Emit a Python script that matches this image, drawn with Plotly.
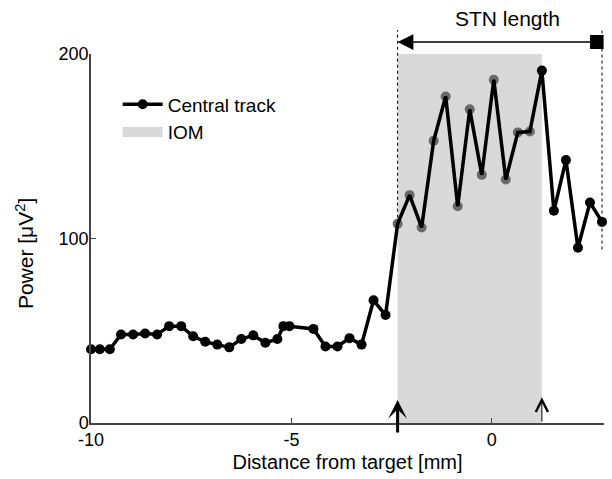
import plotly.graph_objects as go

# Power along the central electrode track
distance_mm = [-10.0, -9.78, -9.53, -9.25, -8.95, -8.65, -8.35, -8.05, -7.75, -7.45,
               -7.15, -6.85, -6.55, -6.25, -5.95, -5.65, -5.35, -5.2, -5.05, -4.45,
               -4.15, -3.85, -3.55, -3.25, -2.95, -2.65, -2.35, -2.05, -1.75, -1.45,
               -1.15, -0.85, -0.55, -0.25, 0.05, 0.35, 0.65, 0.95, 1.25, 1.55,
               1.85, 2.15, 2.45, 2.75]
power_uv2 = [40, 40, 40, 48, 48, 48.5, 48, 52.5, 52.5, 47,
             44, 42.5, 41, 45.5, 47.5, 43.5, 45.5, 52.5, 52.5, 51,
             41.5, 41.5, 46, 42.5, 66.5, 58.5, 108, 123.5, 106, 153,
             177, 117.5, 170, 134.5, 186, 132, 157.5, 158, 191, 115,
             142.5, 95, 119.5, 109]

# Intra-operative microrecording (IOM) segment and STN borders
iom_start = -2.35
iom_end = 1.25
stn_entry = -2.35
stn_exit = 2.75
stn_marker_x = 2.62
stn_marker_halfwidth = 0.17
stn_arrow_level = 206.5
stn_label_level = 219.5
stn_label_x = 0.4
entry_line_bottom = 108
exit_line_bottom = 94
border_line_top = 213
entry_arrow_tip = 12.5
exit_arrow_tip = 14

x_range = [-10, 2.8]
x_ticks = [-10, -5, 0, 2.8]
x_ticklabels = ["-10", "-5", "0", "2.8"]
y_max = 200
y_ticks = [0, 100, 200]
y_title_level = 92

FONT = "Liberation Sans, Arial, sans-serif"
SHADE = "#d9d9d9"
AXIS = "#444"
LINE_W = 3.5
MARKER_SIZE = 10


def paper_y(v):
    return v / y_max


inside = [iom_start <= x < iom_end for x in distance_mm]

fig = go.Figure()

fig.add_trace(go.Scatter(
    x=[iom_start, iom_end, iom_end, iom_start, iom_start],
    y=[0, 0, y_max, y_max, 0],
    fill="toself", fillcolor=SHADE, mode="lines",
    line=dict(width=0, color=SHADE), showlegend=False, hoverinfo="skip",
))

# grey markers for samples inside the IOM segment, sitting under the line
fig.add_trace(go.Scatter(
    x=[x for x, k in zip(distance_mm, inside) if k],
    y=[y for y, k in zip(power_uv2, inside) if k],
    mode="markers", marker=dict(size=MARKER_SIZE, color="#6a6a6a"),
    showlegend=False, cliponaxis=False,
))

fig.add_trace(go.Scatter(
    x=distance_mm, y=power_uv2, mode="lines+markers",
    line=dict(color="black", width=LINE_W),
    marker=dict(size=MARKER_SIZE, color="black",
                opacity=[0 if k else 1 for k in inside]),
    showlegend=False, cliponaxis=False,
))

# legend entries
fig.add_trace(go.Scatter(
    x=[None], y=[None], mode="lines+markers", name="Central track",
    line=dict(color="black", width=LINE_W),
    marker=dict(size=MARKER_SIZE, color="black"), legendrank=1,
))
fig.add_trace(go.Scatter(
    x=[None], y=[None], mode="lines", name="IOM",
    line=dict(width=20, color=SHADE), legendrank=2,
))

annotations = [
    dict(x=stn_entry, y=paper_y(stn_arrow_level), xref="x", yref="paper",
         ax=stn_marker_x, axref="x", ay=0, ayref="pixel", text="",
         showarrow=True, arrowhead=2, arrowsize=2.1, arrowwidth=1.5,
         arrowcolor="black", standoff=0, startstandoff=0),
    dict(x=stn_label_x, y=paper_y(stn_label_level), xref="x", yref="paper",
         yanchor="middle", text="STN length", showarrow=False,
         font=dict(family=FONT, size=21, color="black")),
    dict(x=iom_start, y=entry_arrow_tip, xref="x", yref="y",
         ax=iom_start, ay=-6, axref="x", ayref="y", text="",
         showarrow=True, arrowhead=3, arrowsize=1.05, arrowwidth=3,
         arrowcolor="black", standoff=0),
    dict(x=iom_end, y=exit_arrow_tip, xref="x", yref="y",
         ax=iom_end, ay=0, axref="x", ayref="y", text="",
         showarrow=True, arrowhead=5, arrowsize=2.4, arrowwidth=1,
         arrowcolor="black", standoff=0),
    dict(x=-0.129, y=paper_y(y_title_level), xref="paper", yref="paper",
         text="Power [\u03bcV<sup>2</sup>]", textangle=-90, showarrow=False,
         xanchor="center", yanchor="middle",
         font=dict(family=FONT, size=21, color="black")),
]

shapes = [
    dict(type="line", xref="x", yref="paper", x0=stn_entry, x1=stn_entry,
         y0=paper_y(entry_line_bottom), y1=paper_y(border_line_top),
         line=dict(color="black", width=1, dash="dot")),
    dict(type="line", xref="x", yref="paper", x0=stn_exit, x1=stn_exit,
         y0=paper_y(exit_line_bottom), y1=paper_y(border_line_top),
         line=dict(color="black", width=1, dash="dot")),
    # square end of the STN length arrow
    dict(type="rect", xref="x", yref="paper",
         x0=stn_marker_x - stn_marker_halfwidth, x1=stn_marker_x + stn_marker_halfwidth,
         y0=paper_y(stn_arrow_level) - 0.019, y1=paper_y(stn_arrow_level) + 0.019,
         fillcolor="black", line=dict(width=0)),
]

fig.update_layout(
    width=612, height=479,
    margin=dict(l=91, r=8, t=54, b=56),
    paper_bgcolor="white", plot_bgcolor="white",
    font=dict(family=FONT, size=18, color="black"),
    annotations=annotations, shapes=shapes,
    legend=dict(x=0.052, y=0.915, xanchor="left", yanchor="top",
                bgcolor="rgba(0,0,0,0)", font=dict(size=19),
                itemwidth=40, traceorder="normal"),
    xaxis=dict(range=x_range, tickvals=x_ticks, ticktext=x_ticklabels,
               ticks="inside", ticklen=5, tickcolor=AXIS, showline=True,
               linecolor=AXIS, linewidth=1.5, showgrid=False, zeroline=False,
               tickfont=dict(size=18),
               title=dict(text="Distance from target [mm]", font=dict(size=20),
                          standoff=6)),
    yaxis=dict(range=[0, y_max], tickvals=y_ticks, ticks="inside", ticklen=5,
               tickcolor=AXIS, showline=True, linecolor=AXIS, linewidth=1.5,
               showgrid=False, zeroline=False, tickfont=dict(size=18),
               ticklabelstandoff=-3),
)

fig.write_html("out.html")
